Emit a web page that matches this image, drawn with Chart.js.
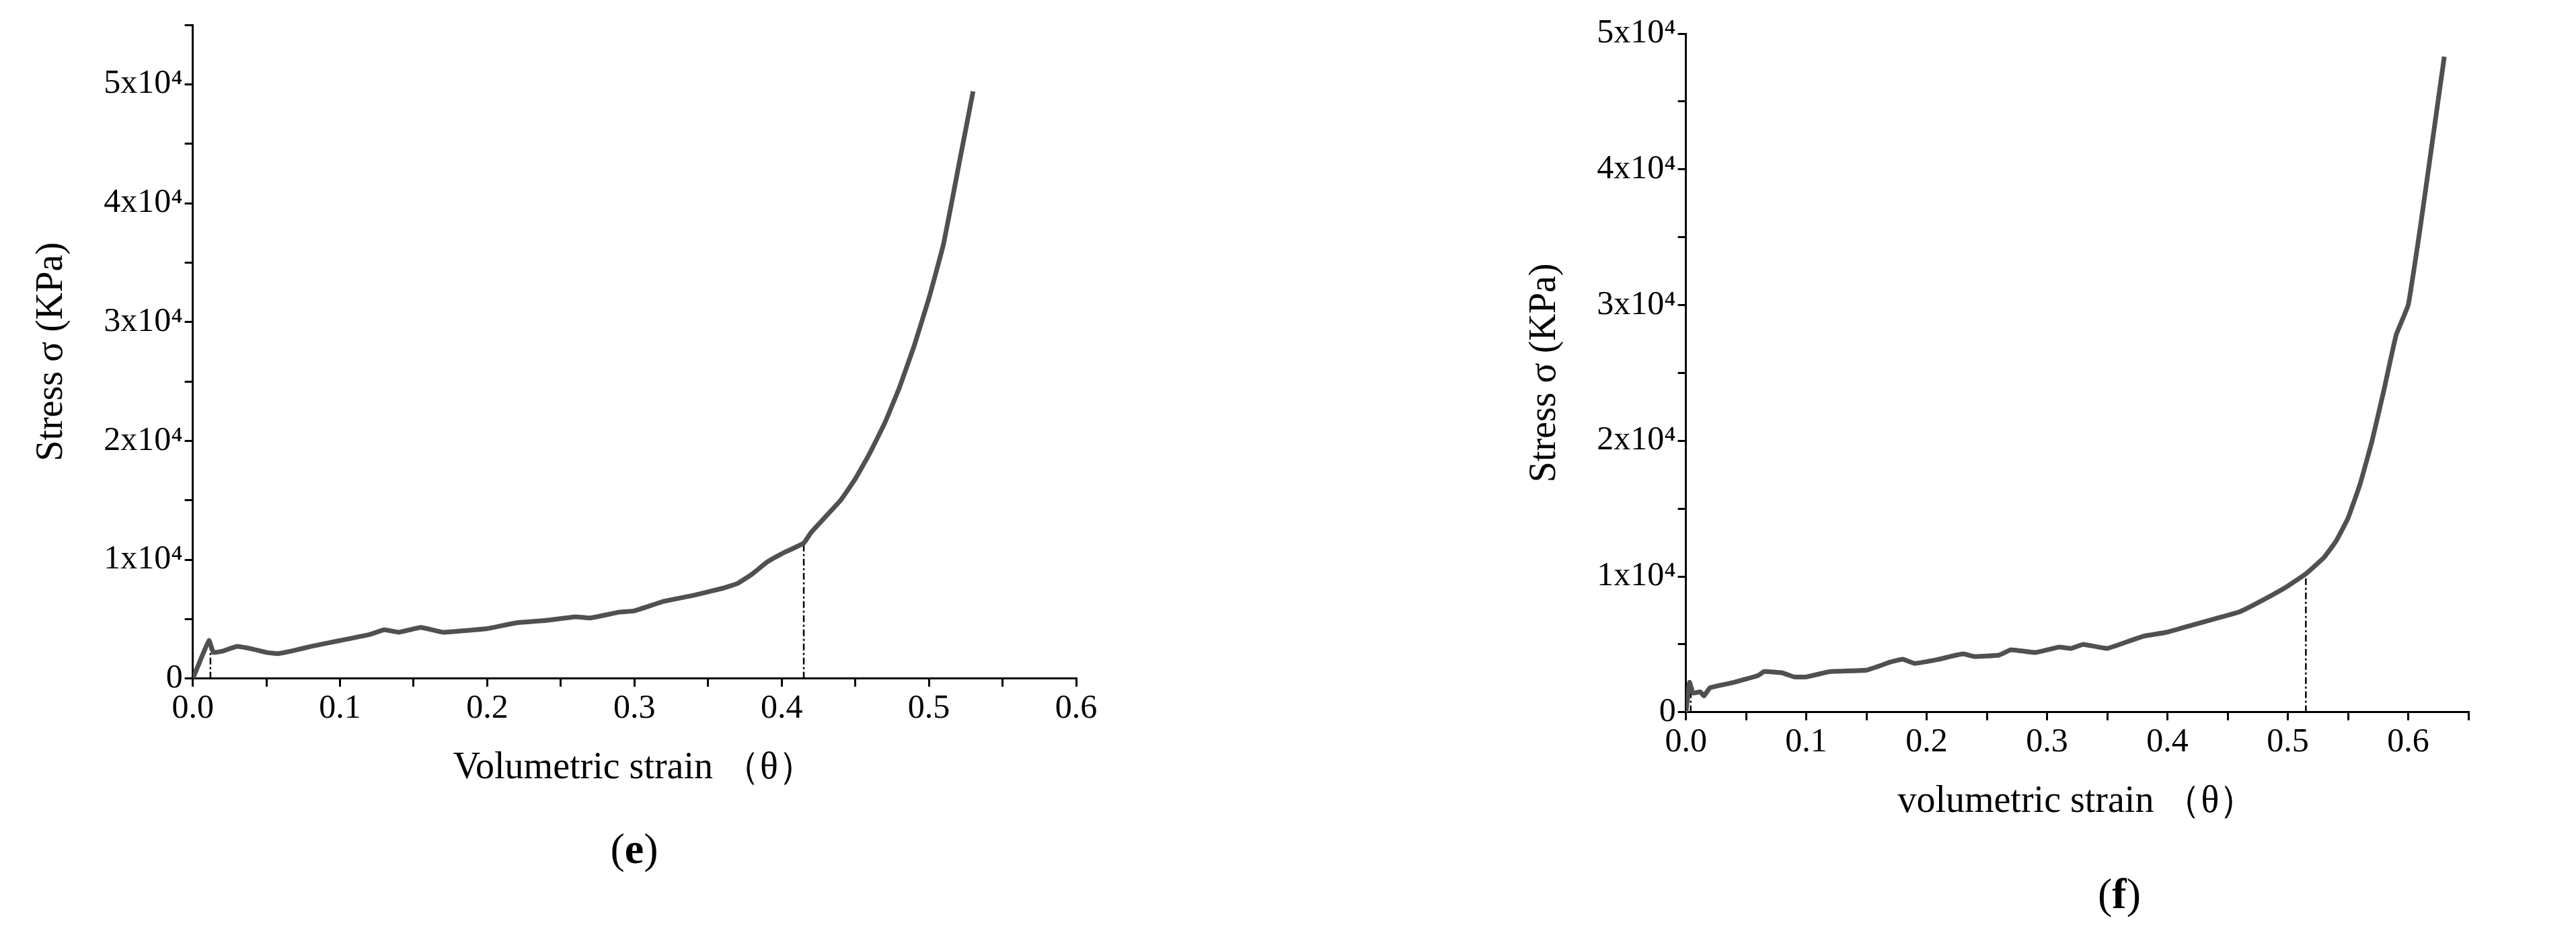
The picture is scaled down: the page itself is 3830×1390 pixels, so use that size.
<!DOCTYPE html>
<html><head><meta charset="utf-8">
<script src="https://cdn.jsdelivr.net/npm/chart.js@4"></script>
<style>
body{margin:0;background:#fff;width:3830px;height:1390px;position:relative;overflow:hidden;font-family:"Liberation Serif",serif}
.c{position:absolute}
.cap{position:absolute;font-size:64px;transform:translateX(-50%);color:#000}
</style></head><body>
<div class="c" style="left:0;top:0;width:1700px;height:1190px"><canvas id="ce"></canvas></div>
<div class="c" style="left:2150px;top:0;width:1680px;height:1260px"><canvas id="cf"></canvas></div>
<div class="cap" style="left:943px;top:1225px">(<b>e</b>)</div>
<div class="cap" style="left:3151px;top:1292px">(<b>f</b>)</div>
<script>
// (e) curve
var strainE = [0,0.005,0.011,0.014,0.02,0.03,0.04,0.05,0.058,0.07,0.08,0.1,0.12,0.13,0.14,0.155,0.17,0.2,0.22,0.24,0.26,0.27,0.29,0.3,0.32,0.34,0.36,0.37,0.38,0.39,0.40,0.415,0.42,0.44,0.45,0.46,0.47,0.48,0.49,0.50,0.51,0.52,0.53];
var stressE = [0,1500,3200,2200,2300,2700,2500,2200,2100,2400,2700,3200,3700,4100,3900,4300,3900,4200,4700,4900,5200,5100,5600,5700,6500,7000,7600,8000,8800,9800,10500,11400,12300,15000,16800,19000,21500,24500,28000,32000,36600,43000,49400];
var markE = [[0.012,3100],[0.415,11400]];
// (f) curve
var strainF = [0,0.003,0.006,0.012,0.015,0.02,0.04,0.06,0.065,0.08,0.09,0.1,0.12,0.15,0.17,0.18,0.19,0.21,0.23,0.24,0.26,0.27,0.29,0.31,0.32,0.33,0.35,0.37,0.38,0.4,0.42,0.44,0.46,0.48,0.5,0.515,0.53,0.54,0.55,0.56,0.57,0.58,0.59,0.6,0.61,0.62,0.63];
var stressF = [0,2200,1400,1500,1200,1800,2200,2700,3000,2900,2600,2600,3000,3100,3700,3900,3600,3900,4300,4100,4200,4600,4400,4800,4700,5000,4700,5300,5600,5900,6400,6900,7400,8300,9300,10200,11400,12600,14300,16800,20000,23800,27800,30000,35700,42000,48300];
var markF = [[0.004,2000],[0.515,10200]];
var yTickLabels = ["0","1x10⁴","2x10⁴","3x10⁴","4x10⁴","5x10⁴"];

function pts(xs, ys){ return xs.map(function(x,i){ return {x:x, y:ys[i]}; }); }
function markSets(m){
  return m.map(function(p){
    return {data:[{x:p[0],y:0},{x:p[0],y:p[1]}], showLine:true, borderColor:'#000', borderWidth:2.5, borderDash:[10,4,3,4], pointRadius:0};
  });
}
var font = {family:'"Liberation Serif", serif', size:50};
function make(id, xs, ys, marks, xmax, ymax, xtitle, pad){
  new Chart(document.getElementById(id), {
    type:'scatter',
    data:{datasets:[{data:pts(xs,ys), showLine:true, borderColor:'#505050', borderWidth:7, pointRadius:0, tension:0.1}].concat(markSets(marks))},
    options:{
      responsive:true, maintainAspectRatio:false, animation:false,
      layout:{padding:pad},
      plugins:{legend:{display:false}, tooltip:{enabled:false}},
      scales:{
        x:{type:'linear', min:0, max:xmax,
          border:{color:'#000', width:3},
          grid:{drawOnChartArea:false, color:'#000', lineWidth:3, tickLength:12},
          ticks:{stepSize:0.05, color:'#000', font:font, autoSkip:false, maxRotation:0,
            callback:function(v){ var t=v*10; return Math.abs(t-Math.round(t))<1e-6 ? (Math.round(t)/10).toFixed(1) : ''; }},
          title:{display:true, text:xtitle, color:'#000', font:{family:font.family, size:56}, padding:{top:22}}
        },
        y:{min:0, max:ymax,
          border:{color:'#000', width:3},
          grid:{drawOnChartArea:false, color:'#000', lineWidth:3, tickLength:12},
          ticks:{stepSize:5000, color:'#000', font:font, autoSkip:false,
            callback:function(v){ return v%10000===0 ? yTickLabels[v/10000] : ''; }},
          title:{display:true, text:'Stress σ (KPa)', color:'#000', font:{family:font.family, size:56}, padding:{bottom:40}}
        }
      }
    }
  });
}
make('ce', strainE, stressE, markE, 0.6, 55000, 'Volumetric strain （θ）', {left:40, top:37, right:100, bottom:10});
make('cf', strainF, stressF, markF, 0.65, 50000, 'volumetric strain （θ）', {left:110, top:50, right:160, bottom:30});
</script>
</body></html>
